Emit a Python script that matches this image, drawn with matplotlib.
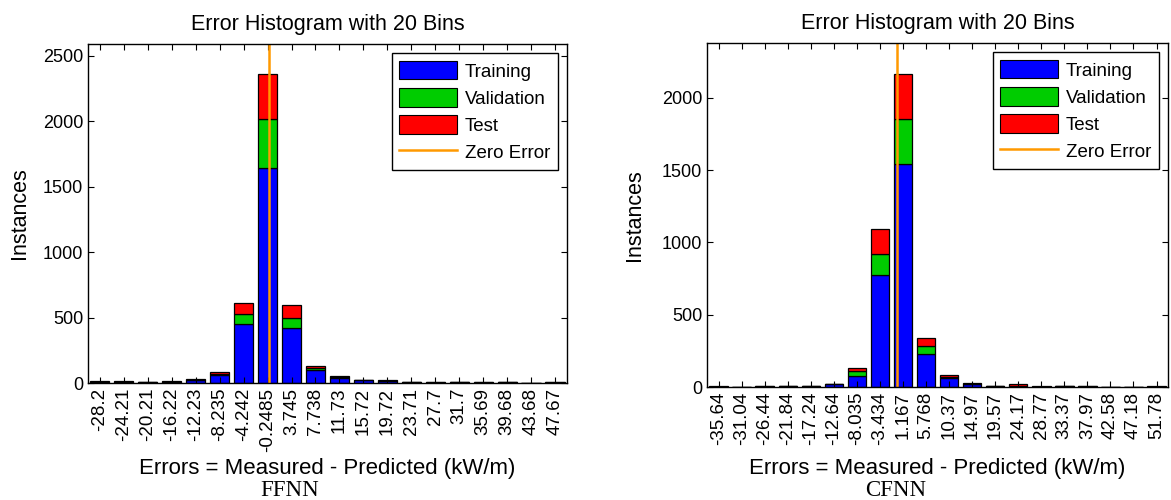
import matplotlib
matplotlib.use("Agg")
import matplotlib.pyplot as plt
import numpy as np
from matplotlib.patches import Patch
from matplotlib.lines import Line2D

# ---- FFNN data ----
ffnn_labels = ["-28.2", "-24.21", "-20.21", "-16.22", "-12.23", "-8.235", "-4.242",
               "-0.2485", "3.745", "7.738", "11.73", "15.72", "19.72", "23.71",
               "27.7", "31.7", "35.69", "39.68", "43.68", "47.67"]
ffnn_centers = [-28.2, -24.21, -20.21, -16.22, -12.23, -8.235, -4.242, -0.2485, 3.745,
                7.738, 11.73, 15.72, 19.72, 23.71, 27.7, 31.7, 35.69, 39.68, 43.68, 47.67]
ffnn_train = [10, 10, 9, 10, 24, 63, 453, 1639, 423, 99, 35, 22, 12, 7, 3, 6, 3, 6, 0, 2]
ffnn_val   = [1, 1, 1, 1, 2, 5, 76, 375, 73, 18, 8, 2, 3, 1, 5, 1, 4, 1, 0, 4]
ffnn_test  = [1, 1, 1, 1, 4, 17, 86, 347, 97, 15, 13, 2, 7, 2, 1, 1, 1, 1, 0, 1]

# ---- CFNN data ----
cfnn_labels = ["-35.64", "-31.04", "-26.44", "-21.84", "-17.24", "-12.64", "-8.035",
               "-3.434", "1.167", "5.768", "10.37", "14.97", "19.57", "24.17",
               "28.77", "33.37", "37.97", "42.58", "47.18", "51.78"]
cfnn_centers = [-35.64, -31.04, -26.44, -21.84, -17.24, -12.64, -8.035, -3.434, 1.167,
                5.768, 10.37, 14.97, 19.57, 24.17, 28.77, 33.37, 37.97, 42.58, 47.18, 51.78]
cfnn_train = [2, 1, 3, 8, 8, 18, 78, 772, 1541, 226, 60, 20, 8, 8, 3, 7, 2, 0, 0, 2]
cfnn_val   = [1, 0, 4, 1, 1, 1, 30, 145, 316, 60, 8, 3, 1, 2, 0, 1, 4, 0, 0, 0]
cfnn_test  = [5, 1, 1, 1, 1, 1, 21, 175, 311, 53, 13, 7, 1, 10, 4, 0, 0, 0, 0, 3]

plt.rcParams['font.family'] = ['Liberation Sans', 'DejaVu Sans']

C_TRAIN = (0, 0, 1)
C_VAL = (0, 0.8, 0)
C_TEST = (1, 0, 0)
C_ZERO = (1, 0.6, 0)

fig = plt.figure(figsize=(11.71, 5.0), dpi=100)


def draw(rect, labels, centers, tr, va, te, ylim, yticks, caption, capx, xpad, ypad):
    ax = fig.add_axes(rect)
    n = len(labels)
    x = np.arange(n)
    tr = np.array(tr); va = np.array(va); te = np.array(te)
    kw = dict(width=0.8, edgecolor='black', linewidth=0.9)
    ax.bar(x, tr, color=C_TRAIN, **kw)
    ax.bar(x, va, bottom=tr, color=C_VAL, **kw)
    ax.bar(x, te, bottom=tr + va, color=C_TEST, **kw)
    step = (centers[-1] - centers[0]) / (n - 1)
    zero_pos = (0 - centers[0]) / step
    ax.axvline(zero_pos, color=C_ZERO, linewidth=1.8)
    ax.set_xlim(-0.5, n - 0.5)
    ax.set_ylim(*ylim)
    ax.set_yticks(yticks)
    ax.set_xticks(x)
    ax.set_xticklabels(labels, rotation=90, fontsize=13.5)
    ax.tick_params(axis='y', labelsize=13)
    ax.tick_params(direction='in', top=True, right=True, length=4, width=0.8)
    for s in ax.spines.values():
        s.set_linewidth(1.0)
    ax.set_title("Error Histogram with 20 Bins", fontsize=15.5, pad=10)
    ax.set_xlabel("Errors = Measured - Predicted (kW/m)", fontsize=16, labelpad=xpad)
    ax.set_ylabel("Instances", fontsize=15.5, labelpad=ypad)
    handles = [Patch(facecolor=C_TRAIN, edgecolor='black', linewidth=0.8),
               Patch(facecolor=C_VAL, edgecolor='black', linewidth=0.8),
               Patch(facecolor=C_TEST, edgecolor='black', linewidth=0.8),
               Line2D([0], [0], color=C_ZERO, linewidth=1.8)]
    leg = ax.legend(handles, ["Training", "Validation", "Test", "Zero Error"],
                    loc='upper right', fontsize=13.5, handlelength=3.1, handleheight=1.15,
                    handletextpad=0.4, labelspacing=0.4, borderpad=0.4,
                    borderaxespad=0.5, fancybox=False, framealpha=1)
    leg.get_frame().set_edgecolor('black')
    leg.get_frame().set_linewidth(1.0)
    fig.text(capx, 0.018, caption, family=['Liberation Serif', 'DejaVu Serif'],
             fontsize=16.5, ha='center', va='center')
    return ax


draw([0.0751, 0.234, 0.4091, 0.678], ffnn_labels, ffnn_centers,
     ffnn_train, ffnn_val, ffnn_test, (0, 2590), [0, 500, 1000, 1500, 2000, 2500],
     "FFNN", 0.2477, 4.5, 9)
draw([0.6038, 0.226, 0.3937, 0.688], cfnn_labels, cfnn_centers,
     cfnn_train, cfnn_val, cfnn_test, (0, 2380), [0, 500, 1000, 1500, 2000],
     "CFNN", 0.765, 9, 12)

fig.savefig("out.png", dpi=100)
